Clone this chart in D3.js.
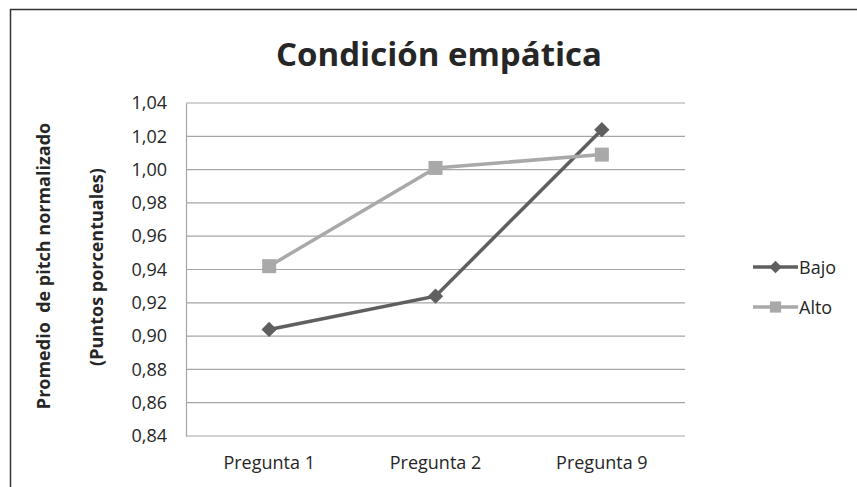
<!DOCTYPE html>
<html>
<head>
<meta charset="utf-8">
<script src="https://cdn.jsdelivr.net/npm/d3@7"></script>
<style>
  body { margin: 0; background: #fff; }
  text { font-family: "Open Sans", "Noto Sans", sans-serif; fill: #262626; }
</style>
</head>
<body>
<div id="chart"></div>
<script>
// data
const categories = ["Pregunta 1", "Pregunta 2", "Pregunta 9"];
const bajo = [0.904, 0.924, 1.024];
const alto = [0.942, 1.001, 1.009];
const yTicks = [0.84, 0.86, 0.88, 0.90, 0.92, 0.94, 0.96, 0.98, 1.00, 1.02, 1.04];

const series = [
    { name: "Bajo", values: bajo, color: "#5f5f5f", shape: d3.symbolDiamond2 },
    { name: "Alto", values: alto, color: "#a9a9a9", shape: d3.symbolSquare2 }
];

let width = 857, height = 487;
let plot = { left: 186, right: 685, top: 103, bottom: 436 };

let svg = d3.select('#chart')
    .append('svg')
    .attr('width', width)
    .attr('height', height);

// outer frame
svg.append('rect')
    .attr('x', 10.5)
    .attr('y', 9.5)
    .attr('width', 900)
    .attr('height', 600)
    .attr('fill', 'none')
    .attr('stroke', '#333')
    .attr('stroke-width', 1.5);

let x = d3.scaleBand()
    .domain(categories)
    .range([plot.left, plot.right]);

let y = d3.scaleLinear()
    .domain([0.84, 1.04])
    .range([plot.bottom, plot.top]);

// gridlines
svg.append('g')
    .selectAll('line')
    .data(yTicks)
    .enter()
    .append('line')
    .attr('x1', plot.left)
    .attr('x2', plot.right)
    .attr('y1', d => y(d))
    .attr('y2', d => y(d))
    .style('stroke', '#a6a6a6')
    .style('stroke-width', 1.2);

// y axis
let yAxis = svg.append('g')
    .attr('transform', `translate(${plot.left},0)`)
    .call(d3.axisLeft(y).tickValues(yTicks).tickSize(0).tickPadding(19)
        .tickFormat(d => d3.format('.2f')(d).replace('.', ',')));
yAxis.select('.domain').attr('stroke', '#a6a6a6').attr('stroke-width', 1.2);
yAxis.selectAll('text')
    .style('font-size', '18px')
    .style('fill', '#262626')
    .style('font-family', '"Open Sans", sans-serif');

// x axis labels
let xAxis = svg.append('g')
    .attr('transform', `translate(0,${plot.bottom})`)
    .call(d3.axisBottom(x).tickSize(0).tickPadding(20));
xAxis.select('.domain').remove();
xAxis.selectAll('text')
    .style('font-size', '18px')
    .style('fill', '#262626')
    .style('font-family', '"Open Sans", sans-serif');

// lines + markers
let line = d3.line()
    .x((d, i) => x(categories[i]) + x.bandwidth() / 2)
    .y(d => y(d));

series.forEach(s => {
    svg.append('path')
        .datum(s.values)
        .attr('d', line)
        .attr('fill', 'none')
        .attr('stroke', s.color)
        .attr('stroke-width', 3.5);

    svg.selectAll('path.m-' + s.name)
        .data(s.values)
        .enter()
        .append('path')
        .attr('class', 'm-' + s.name)
        .attr('d', d3.symbol().type(s.shape).size(s.name == "Bajo" ? 150 : 250))
        .attr('transform', (d, i) => `translate(${x(categories[i]) + x.bandwidth() / 2},${y(d)})`)
        .attr('fill', s.color);
});

// legend
series.forEach((s, i) => {
    let ly = 267 + i * 40;
    svg.append('line')
        .attr('x1', 753).attr('x2', 798)
        .attr('y1', ly).attr('y2', ly)
        .attr('stroke', s.color)
        .attr('stroke-width', 3.5);
    svg.append('path')
        .attr('d', d3.symbol().type(s.shape).size(s.name == "Bajo" ? 100 : 160))
        .attr('transform', `translate(775.5,${ly})`)
        .attr('fill', s.color);
    svg.append('text')
        .attr('x', 799)
        .attr('y', ly + 7)
        .style('font-size', '18px')
        .text(s.name);
});

// title
svg.append('text')
    .attr('x', 439)
    .attr('y', 66)
    .attr('text-anchor', 'middle')
    .style('font-size', '33px')
    .style('font-weight', 'bold')
    .text('Condición empática');

// y axis title (two lines)
svg.append('text')
    .attr('transform', 'translate(50,266) rotate(-90)')
    .attr('text-anchor', 'middle')
    .style('font-size', '18px')
    .style('font-weight', 'bold')
    .style('white-space', 'pre')
    .text('Promedio  de pitch normalizado');

svg.append('text')
    .attr('transform', 'translate(103,267) rotate(-90)')
    .attr('text-anchor', 'middle')
    .style('font-size', '18px')
    .style('font-weight', 'bold')
    .text('(Puntos porcentuales)');
</script>
</body>
</html>
